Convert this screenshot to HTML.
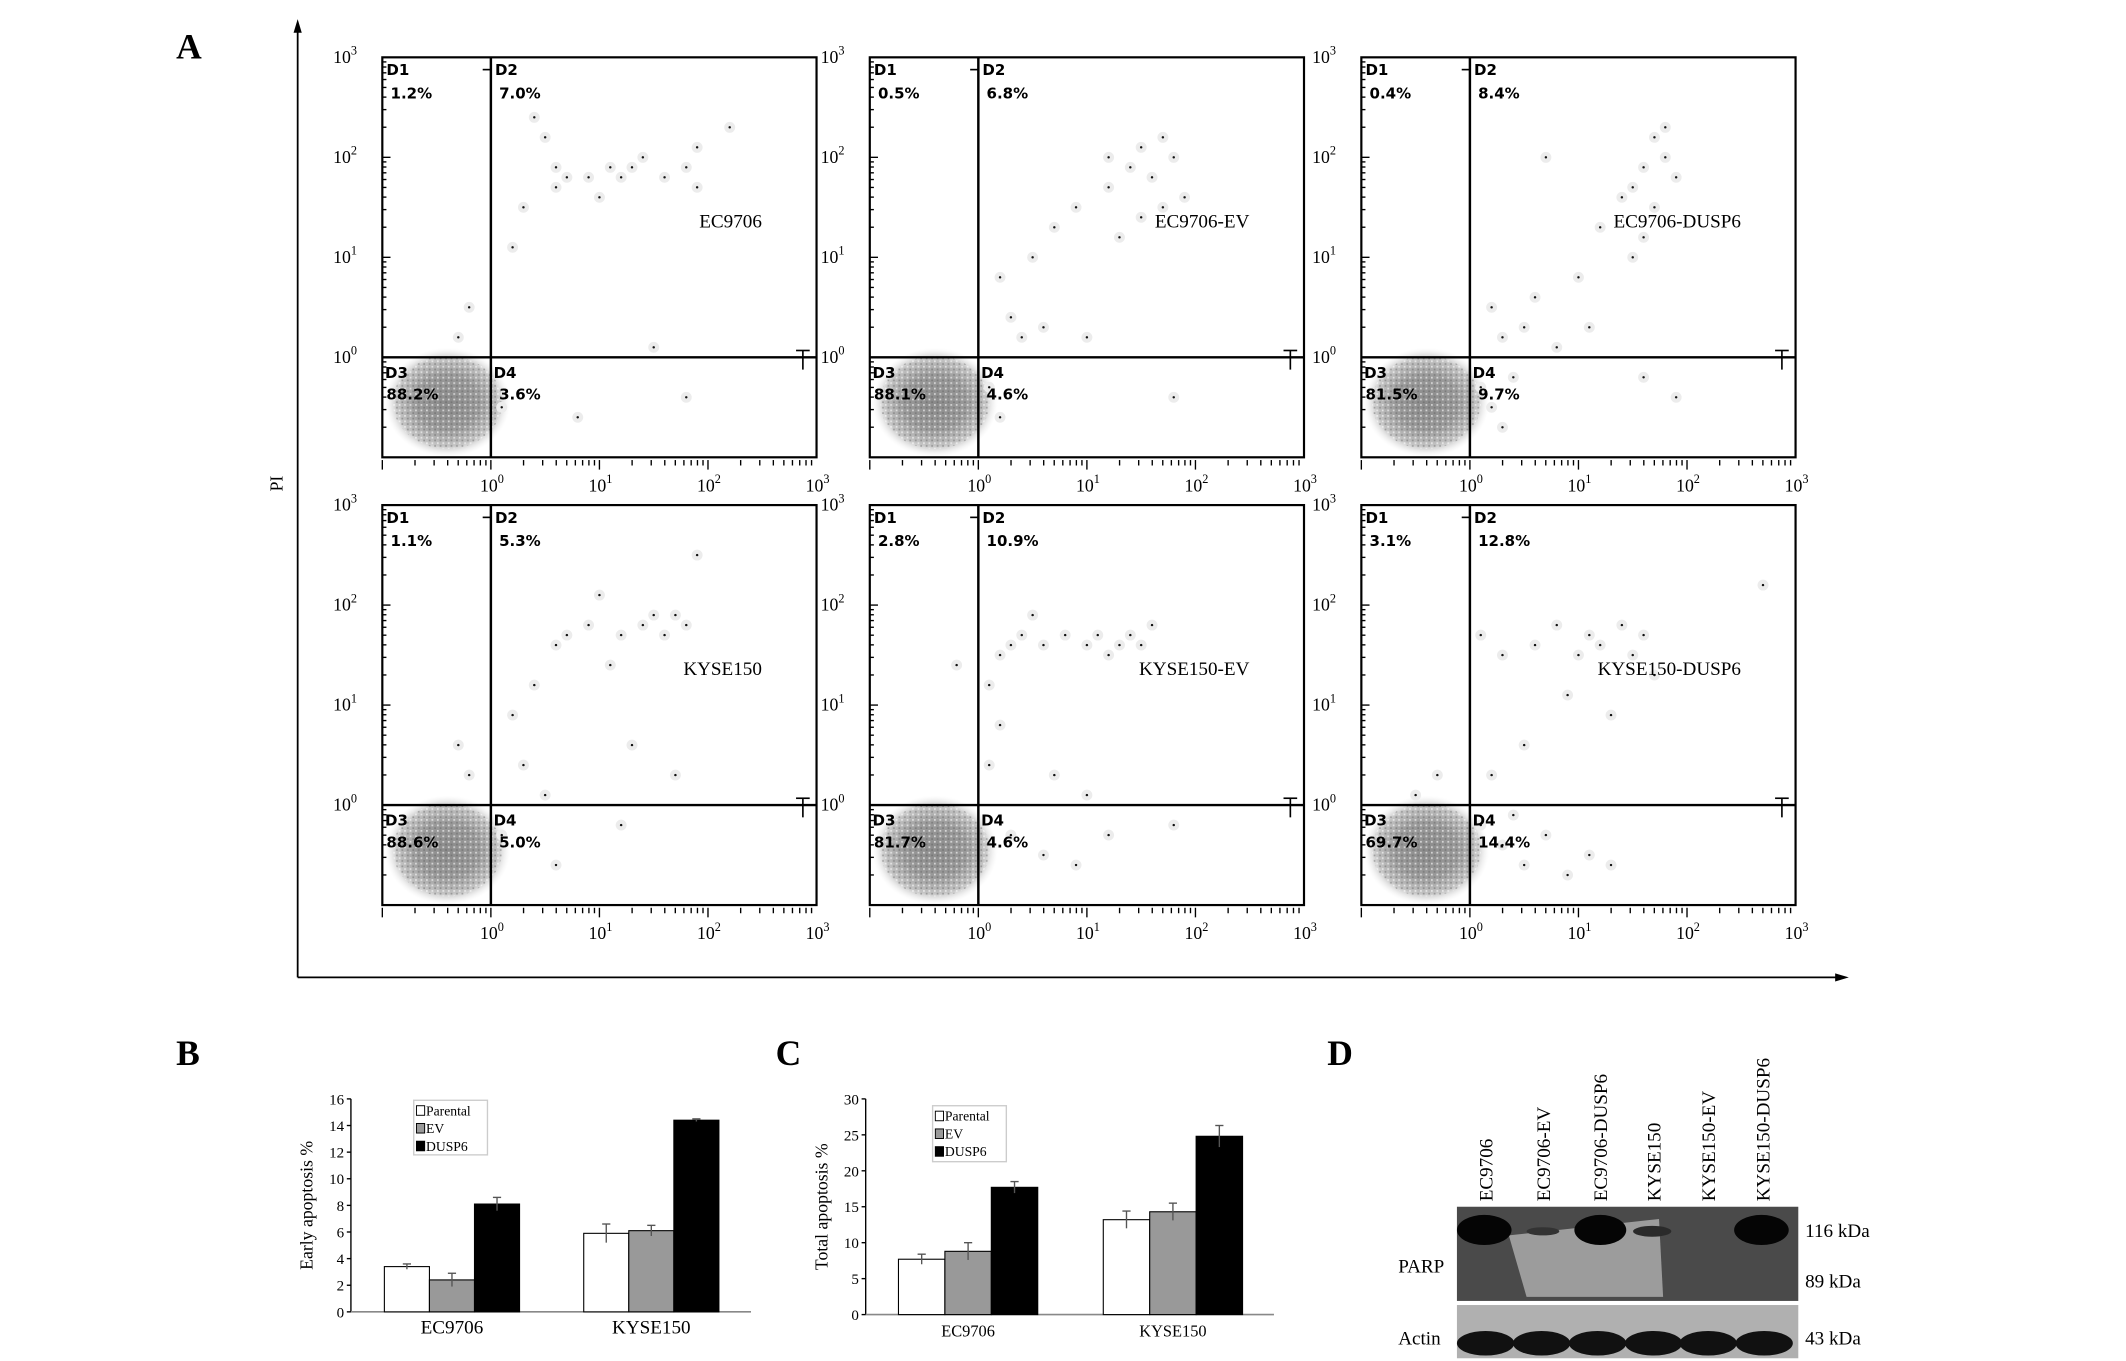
<!DOCTYPE html>
<html><head><meta charset="utf-8">
<style>
html,body{margin:0;padding:0;background:#fff;}
svg{display:block;}
text{font-family:"Liberation Serif",serif;}
.b{font-family:"DejaVu Sans","Liberation Sans",sans-serif;font-weight:bold;}
</style></head>
<body>
<svg id="fig" width="2126" height="1361" viewBox="0 0 1557 997" preserveAspectRatio="none" xmlns="http://www.w3.org/2000/svg">
<defs>
<radialGradient id="blob"><stop offset="0" stop-color="#8a8a8a"/><stop offset="0.5" stop-color="#9a9a9a"/><stop offset="0.8" stop-color="#c4c4c4"/><stop offset="1" stop-color="#eee" stop-opacity="0"/></radialGradient>
<pattern id="speck" width="4" height="4" patternUnits="userSpaceOnUse"><rect width="4" height="4" fill="none"/><rect x="0" y="0" width="1.3" height="1.3" fill="#fff" opacity="0.6"/><rect x="2" y="2" width="1.3" height="1.3" fill="#555" opacity="0.4"/></pattern>
</defs>
<g>
<text x="129" y="43" font-size="26" font-weight="bold">A</text>
<line x1="218" y1="22" x2="218" y2="716" stroke="#000" stroke-width="1.3"/>
<polygon points="218,14 215,24 221,24" fill="#000"/>
<line x1="218" y1="716" x2="1346" y2="716" stroke="#000" stroke-width="1.3"/>
<polygon points="1354,716 1344,713 1344,719" fill="#000"/>
<text x="0" y="0" font-size="13" transform="translate(207,360) rotate(-90)">PI</text>
<g id="flow"></g>
</g>
<g id="barB"></g>
<g id="barC"></g>
<text x="129" y="780" font-size="26" font-weight="bold">B</text>
<text x="568" y="780" font-size="26" font-weight="bold">C</text>
<text x="972" y="780" font-size="26" font-weight="bold">D</text>
<g>
<rect x="1067" y="884" width="250" height="69" fill="#4a4a4a"/>
<path d="M1105,905 L1215,893 L1218,950 L1118,950 Z" fill="#9c9c9c"/>
<ellipse cx="1087" cy="901" rx="20" ry="11" fill="#050505"/>
<ellipse cx="1130" cy="902" rx="12" ry="3" fill="#333"/>
<ellipse cx="1172" cy="901" rx="19" ry="11" fill="#050505"/>
<ellipse cx="1210" cy="902" rx="14" ry="4" fill="#2a2a2a"/>
<ellipse cx="1290" cy="901" rx="20" ry="11" fill="#050505"/>
<rect x="1067" y="956" width="250" height="39" fill="#b0b0b0"/>
<g fill="#111">
<ellipse cx="1088" cy="984" rx="21" ry="9"/><ellipse cx="1129" cy="984" rx="21" ry="9"/><ellipse cx="1170" cy="984" rx="21" ry="9"/><ellipse cx="1211" cy="984" rx="21" ry="9"/><ellipse cx="1251" cy="984" rx="21" ry="9"/><ellipse cx="1292" cy="984" rx="21" ry="9"/>
</g>
<g font-size="14">
<text transform="translate(1093,880) rotate(-90)">EC9706</text>
<text transform="translate(1135,880) rotate(-90)">EC9706-EV</text>
<text transform="translate(1177,880) rotate(-90)">EC9706-DUSP6</text>
<text transform="translate(1216,880) rotate(-90)">KYSE150</text>
<text transform="translate(1256,880) rotate(-90)">KYSE150-EV</text>
<text transform="translate(1296,880) rotate(-90)">KYSE150-DUSP6</text>
</g>
<text x="1322" y="906" font-size="14">116 kDa</text>
<text x="1322" y="943" font-size="14">89 kDa</text>
<text x="1322" y="985" font-size="14">43 kDa</text>
<text x="1024" y="932" font-size="14">PARP</text>
<text x="1024" y="985" font-size="14">Actin</text>
</g>
</svg>
<script>
// ---- flow cytometry data (log10 Annexin, log10 PI) ----
const panelNames = ["EC9706","EC9706-EV","EC9706-DUSP6","KYSE150","KYSE150-EV","KYSE150-DUSP6"];
const q1Pct = ["1.2%","0.5%","0.4%","1.1%","2.8%","3.1%"];
const q2Pct = ["7.0%","6.8%","8.4%","5.3%","10.9%","12.8%"];
const q3Pct = ["88.2%","88.1%","81.5%","88.6%","81.7%","69.7%"];
const q4Pct = ["3.6%","4.6%","9.7%","5.0%","4.6%","14.4%"];
const dots0 = [[0.5,2.2],[0.6,1.9],[0.7,1.8],[0.9,1.8],[1.1,1.9],[1.2,1.8],[1.3,1.9],[1.4,2.0],[1.6,1.8],[1.8,1.9],[1.9,1.7],[0.3,1.5],[0.2,1.1],[0.4,2.4],[1.5,0.1],[1.8,-0.4],[0.1,-0.5],[0.8,-0.6],[-0.2,0.5],[-0.3,0.2],[2.2,2.3],[1.9,2.1],[1.0,1.6],[0.6,1.7]];
const dots1 = [[1.0,0.2],[0.3,0.4],[0.2,0.8],[0.5,1.0],[0.7,1.3],[0.9,1.5],[1.2,1.7],[1.4,1.9],[1.5,2.1],[1.6,1.8],[1.7,2.2],[1.8,2.0],[1.9,1.6],[1.3,1.2],[0.6,0.3],[0.1,-0.3],[0.2,-0.6],[1.8,-0.4],[1.5,1.4],[1.2,2.0],[0.4,0.2],[1.7,1.5]];
const dots2 = [[1.0,0.8],[1.2,1.3],[1.4,1.6],[1.6,1.9],[1.7,2.2],[1.8,2.0],[1.9,1.8],[1.7,1.5],[1.6,1.2],[1.5,1.0],[0.5,0.3],[0.3,0.2],[0.2,0.5],[0.6,0.6],[0.8,0.1],[1.1,0.3],[0.1,-0.3],[0.2,-0.5],[0.4,-0.2],[0.3,-0.7],[1.6,-0.2],[1.9,-0.4],[1.8,2.3],[1.5,1.7],[0.7,2.0]];
const dots3 = [[0.6,1.6],[0.7,1.7],[0.9,1.8],[1.0,2.1],[1.2,1.7],[1.4,1.8],[1.5,1.9],[1.6,1.7],[1.7,1.9],[1.8,1.8],[1.1,1.4],[0.4,1.2],[0.2,0.9],[0.3,0.4],[0.5,0.1],[1.3,0.6],[1.7,0.3],[0.1,-0.3],[0.6,-0.6],[1.2,-0.2],[-0.3,0.6],[-0.2,0.3],[1.9,2.5]];
const dots4 = [[0.2,1.5],[0.3,1.6],[0.4,1.7],[0.6,1.6],[0.8,1.7],[1.0,1.6],[1.1,1.7],[1.2,1.5],[1.3,1.6],[1.4,1.7],[1.5,1.6],[1.6,1.8],[0.1,1.2],[0.2,0.8],[0.1,0.4],[0.7,0.3],[1.0,0.1],[0.3,-0.3],[0.6,-0.5],[0.9,-0.6],[1.2,-0.3],[1.8,-0.2],[-0.2,1.4],[0.5,1.9]];
const dots5 = [[0.1,1.7],[0.3,1.5],[0.6,1.6],[0.8,1.8],[1.0,1.5],[1.1,1.7],[1.2,1.6],[1.4,1.8],[1.5,1.5],[1.6,1.7],[1.7,1.3],[0.9,1.1],[0.5,0.6],[0.2,0.3],[1.3,0.9],[0.1,-0.2],[0.3,-0.4],[0.5,-0.6],[0.7,-0.3],[0.9,-0.7],[1.1,-0.5],[1.3,-0.6],[0.4,-0.1],[-0.3,0.3],[-0.5,0.1],[2.7,2.2]];
const allDots = [dots0,dots1,dots2,dots3,dots4,dots5];
const NS="http://www.w3.org/2000/svg";
function mk(tag, attrs, parent){const e=document.createElementNS(NS,tag);for(const k in attrs)e.setAttribute(k,attrs[k]);parent.appendChild(e);return e;}
const flow=document.getElementById('flow');
const PX=[280,637,997], PY=[42,370], PW=318, PH=293;
const logMin=-1, logMax=3;
for(let i=0;i<6;i++){
  const ox=PX[i%3], oy=PY[Math.floor(i/3)];
  const sx=v=>ox+(v-logMin)/(logMax-logMin)*PW;
  const sy=v=>oy+PH-(v-logMin)/(logMax-logMin)*PH;
  const g=mk('g',{},flow);
  
  
  const cl=mk('ellipse',{cx:sx(-0.4),cy:sy(-0.45),rx:46,ry:40,fill:'url(#blob)'},g);
  
  
  mk('ellipse',{cx:sx(-0.4),cy:sy(-0.45),rx:40,ry:34,fill:'url(#speck)'},g);
  const fr=mk('rect',{x:ox,y:oy,width:PW,height:PH,fill:'none',stroke:'#000','stroke-width':1.6},g);
  
  
  const vl=mk('line',{x1:sx(0),y1:oy,x2:sx(0),y2:oy+PH,stroke:'#000','stroke-width':1.8},g);
  
  
  const hl=mk('line',{x1:ox,y1:sy(0),x2:ox+PW,y2:sy(0),stroke:'#000','stroke-width':1.8},g);
  
  
  mk('line',{x1:ox+PW-10,y1:sy(0)-5,x2:ox+PW-10,y2:sy(0)+9,stroke:'#000','stroke-width':1.2},g);
  mk('line',{x1:ox+PW-15,y1:sy(0)-5,x2:ox+PW-5,y2:sy(0)-5,stroke:'#000','stroke-width':1.2},g);
  mk('line',{x1:sx(0)-6,y1:oy+9,x2:sx(0),y2:oy+9,stroke:'#000','stroke-width':1.2},g);
  for(let d=logMin; d<logMax; d++){
    for(let m=1;m<10;m++){
      const v=d+Math.log10(m);
      const len = m===1?6:3;
      mk('line',{x1:ox,y1:sy(v),x2:ox+len,y2:sy(v),stroke:'#000','stroke-width':1},g);
      mk('line',{x1:sx(v),y1:oy+PH+2,x2:sx(v),y2:oy+PH+2+(m===1?7:4),stroke:'#000','stroke-width':1},g);
    }
  }
  for(let d=0; d<=3; d++){
    const yl=mk('text',{x:ox-36,y:sy(d)+4,'font-size':13},g);
    
    
    yl.innerHTML='10<tspan dy="-6" font-size="9">'+d+'</tspan>';
    const xl=mk('text',{x:sx(d)-8,y:oy+PH+25,'font-size':13},g);
    
    
    xl.innerHTML='10<tspan dy="-6" font-size="9">'+d+'</tspan>';
  }
  allDots[i].forEach(p=>{
    mk('circle',{cx:sx(p[0]),cy:sy(p[1]),r:4,fill:'#ececec'},g);
    const c=mk('circle',{cx:sx(p[0]),cy:sy(p[1]),r:0.9,fill:'#111'},g);
    
    
  });
  const labs=[['D1',ox+3,oy+13],[q1Pct[i],ox+6,oy+30],['D2',sx(0)+3,oy+13],[q2Pct[i],sx(0)+6,oy+30],
              ['D3',ox+2,sy(0)+15],[q3Pct[i],ox+3,sy(0)+31],['D4',sx(0)+2,sy(0)+15],[q4Pct[i],sx(0)+6,sy(0)+31]];
  labs.forEach(l=>{
    const t=mk('text',{x:l[1],y:l[2],'font-size':11,'class':'b'},g);
    
    
    t.textContent=l[0];
  });
  const nm=mk('text',{x:ox+PW-40,y:sy(1.3),'font-size':14,'text-anchor':'end','font-family':'Liberation Mono, monospace'},g);
  
  
  nm.textContent=panelNames[i];
}

// ---- bar charts ----
const groups = ["EC9706","KYSE150"];
const seriesNames = ["Parental","EV","DUSP6"];
const earlyParental = [3.4, 5.9];
const earlyEV = [2.4, 6.1];
const earlyDUSP6 = [8.1, 14.4];
const earlyErrParental = [0.2, 0.7];
const earlyErrEV = [0.5, 0.4];
const earlyErrDUSP6 = [0.5, 0.1];
const earlyTicks = [0,2,4,6,8,10,12,14,16];
const totalParental = [7.7, 13.2];
const totalEV = [8.8, 14.3];
const totalDUSP6 = [17.7, 24.8];
const totalErrParental = [0.7, 1.2];
const totalErrEV = [1.2, 1.2];
const totalErrDUSP6 = [0.8, 1.5];
const totalTicks = [0,5,10,15,20,25,30];
const fills=['#fff','#999','#000'];
function barChart(gid, cfg){
  const g=document.getElementById(gid);
  const {x0,x1,y0,y1,max,ticks,vals,errs,title,groupX,bw,leg,fs}=cfg;
  const sy=v=>y0-(v/max)*(y0-y1);
  const ax=mk('line',{x1:x0,y1:y1,x2:x0,y2:y0,stroke:'#000','stroke-width':1},g);
  
  
  const bx=mk('line',{x1:x0,y1:y0,x2:x1,y2:y0,stroke:'#888','stroke-width':1.2},g);
  
  
  ticks.forEach(t=>{
    mk('line',{x1:x0-3,y1:sy(t),x2:x0,y2:sy(t),stroke:'#000'},g);
    const tl=mk('text',{x:x0-5,y:sy(t)+4,'font-size':11,'text-anchor':'end'},g);
    
    
    tl.textContent=t;
  });
  groups.forEach((gn,gi)=>{
    const cx=groupX[gi];
    for(let s=0;s<3;s++){
      const v=vals[s][gi], e=errs[s][gi];
      const bxl=cx+(s-1.5)*bw;
      const r=mk('rect',{x:bxl,y:sy(v),width:bw,height:y0-sy(v),fill:fills[s],stroke:'#000','stroke-width':0.8},g);
      
      
      const ex=bxl+bw/2;
      mk('line',{x1:ex,y1:sy(v+e),x2:ex,y2:sy(v-e),stroke:'#555'},g);
      mk('line',{x1:ex-3,y1:sy(v+e),x2:ex+3,y2:sy(v+e),stroke:'#555'},g);
    }
    const gl=mk('text',{x:cx,y:y0+16,'font-size':fs,'text-anchor':'middle'},g);
    
    
    gl.textContent=gn;
  });
  const tt=mk('text',{x:0,y:0,'font-size':13,'text-anchor':'middle',transform:'translate('+(x0-28)+','+((y0+y1)/2)+') rotate(-90)'},g);
  
  
  tt.textContent=title;
  const lb=mk('rect',{x:leg[0],y:leg[1],width:leg[2],height:leg[3],fill:'#fff',stroke:'#ccc'},g);
  
  
  seriesNames.forEach((n,s)=>{
    const yy=leg[1]+11+s*13;
    mk('rect',{x:leg[0]+2,y:yy-7,width:6,height:7,fill:fills[s],stroke:'#000','stroke-width':0.7},g);
    const t=mk('text',{x:leg[0]+9,y:yy,'font-size':10},g);
    
    
    t.textContent=n;
  });
}
barChart('barB',{x0:257,x1:550,y0:961,y1:805,max:16,ticks:earlyTicks,
  vals:[earlyParental,earlyEV,earlyDUSP6],errs:[earlyErrParental,earlyErrEV,earlyErrDUSP6],
  title:'Early apoptosis %',groupX:[331,477],bw:33,leg:[303,806,54,40],fs:14});
barChart('barC',{x0:634,x1:933,y0:963,y1:805,max:30,ticks:totalTicks,
  vals:[totalParental,totalEV,totalDUSP6],errs:[totalErrParental,totalErrEV,totalErrDUSP6],
  title:'Total apoptosis %',groupX:[709,859],bw:34,leg:[683,810,54,41],fs:12});
</script>
</body></html>
